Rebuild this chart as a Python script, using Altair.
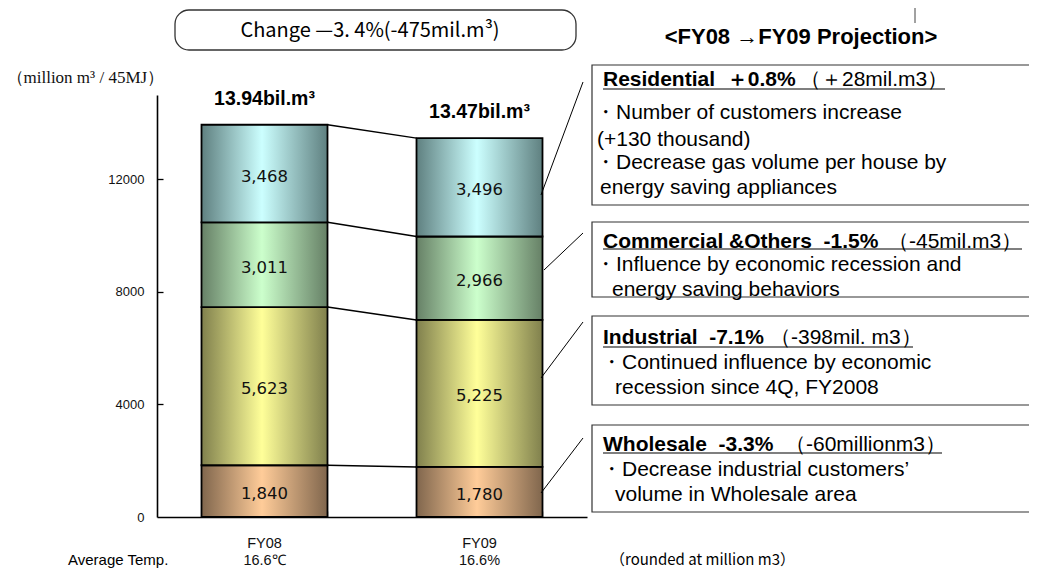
import itertools
import altair as alt
import pandas as pd

# ---------------- data ----------------
years = ["FY08", "FY09"]
temps = ["16.6℃", "16.6%"]
segments = ["Wholesale", "Industrial", "Commercial & Others", "Residential"]
fy08 = [1840, 5623, 3011, 3468]
fy09 = [1780, 5225, 2966, 3496]
total_labels = ["13.94bil.m³", "13.47bil.m³"]
y_ticks = [0, 4000, 8000, 12000]

title_text = "Change —3. 4%(-475mil.m³)"
heading_text = "<FY08 →FY09 Projection>"
unit_text = "（million m³ / 45MJ）"
temp_caption = "Average Temp."
rounding_note = "（rounded at million m3）"

box_heads = ["Residential\u00a0 ＋0.8%", "Commercial &Others\u00a0 -1.5%",
             "Industrial\u00a0 -7.1%", "Wholesale\u00a0 -3.3%"]
box_amounts = ["（＋28mil.m3）", "（-45mil.m3）", "（-398mil. m3）", "（-60millionm3）"]
box_lines = [
    ["・Number of customers increase", "(+130 thousand)",
     "・Decrease gas volume per house by", "energy saving appliances"],
    ["・Influence by economic recession and", "energy saving behaviors"],
    ["・Continued influence by economic", "recession since 4Q, FY2008"],
    ["・Decrease industrial customers’", "volume in Wholesale area"],
]

# ---------------- styles / layout ----------------
light = ["#FFCC99", "#FFFF99", "#CCFFCC", "#CCFFFF"]
dark = ["#80664D", "#80804D", "#668066", "#5F8080"]
W, H = 430, 422
YMAX = 15000
SANS = "Liberation Sans"
CJK = "Noto Sans CJK JP"

rows = []
for yr, vals in zip(years, [fy08, fy09]):
    lo = 0
    for seg, v in zip(segments, vals):
        rows.append(dict(year=yr, seg=seg, v=v, lo=lo, hi=lo + v, mid=lo + v / 2))
        lo += v
df = pd.DataFrame(rows)
tot = pd.DataFrame({"year": years, "total": [sum(fy08), sum(fy09)], "label": total_labels})
conn = pd.DataFrame({"a": [years[0]] * 4, "b": [years[1]] * 4,
                     "c1": list(itertools.accumulate(fy08)),
                     "c2": list(itertools.accumulate(fy09))})

xscale = alt.Scale(domain=years, paddingInner=0.414, paddingOuter=0.207)
yscale = alt.Scale(domain=[0, YMAX], nice=False)

label_expr = " : ".join(
    [f"datum.value == '{y}' ? ['{y}', '{t}']" for y, t in zip(years, temps)] + ["datum.value"])

x_axis = alt.Axis(orient="bottom", title=None, ticks=False, domainColor="black",
                  domainWidth=1.6, labelExpr=label_expr, labelFont=SANS,
                  labelFontSize=14.5, labelColor="#111", labelPadding=19,
                  labelLineHeight=17, labelAngle=0)
y_axis = alt.Axis(orient="left", values=y_ticks, format="d", tickSize=0,
                  labelPadding=13, labelFont=SANS, labelFontSize=13,
                  labelColor="#111", domainColor="black", domainWidth=1.6,
                  grid=False, title=unit_text, titleAngle=0, titleAlign="left",
                  titleBaseline="middle", titleX=-151, titleY=-18,
                  titleFont="Liberation Serif", titleFontSize=17,
                  titleFontWeight="normal", titleColor="#111")

layers = []
for i, seg in enumerate(segments):
    grad = alt.LinearGradient(
        gradient="linear",
        stops=[alt.GradientStop(offset=0, color=dark[i]),
               alt.GradientStop(offset=0.48, color=light[i]),
               alt.GradientStop(offset=1, color=dark[i])],
        x1=0, x2=1, y1=0, y2=0)
    layers.append(
        alt.Chart(df).transform_filter(alt.datum.seg == seg)
        .mark_bar(fill=grad, stroke="black", strokeWidth=1.8)
        .encode(x=alt.X("year:N", scale=xscale, axis=x_axis if i == 0 else None),
                y=alt.Y("lo:Q", scale=yscale, axis=y_axis if i == 0 else None),
                y2="hi:Q")
    )

# inward ticks via displaced secondary axes
ticks_layer = alt.Chart(tot).mark_point(opacity=0).encode(
    x=alt.X("year:N", scale=xscale,
            axis=alt.Axis(orient="top", offset=-H, labels=False, domain=False,
                          tickSize=6, tickBand="extent", tickColor="black",
                          tickWidth=1.3, title=None)),
    y=alt.Y("total:Q", scale=yscale,
            axis=alt.Axis(orient="right", offset=-W, labels=False, domain=False,
                          values=y_ticks[1:], tickSize=6, tickColor="black",
                          tickWidth=1.3, title=None)),
)

connectors = alt.Chart(conn).mark_rule(color="black", strokeWidth=1.5).encode(
    x=alt.X("a:N", scale=xscale, bandPosition=1, axis=None),
    x2=alt.X2("b:N", bandPosition=0),
    y=alt.Y("c1:Q", scale=yscale, axis=None),
    y2="c2:Q",
)

seg_labels = alt.Chart(df).mark_text(font="DejaVu Sans", fontSize=16.5, color="#111",
                                     dy=3, baseline="middle").encode(
    x=alt.X("year:N", scale=xscale, axis=None),
    y=alt.Y("mid:Q", scale=yscale, axis=None),
    text=alt.Text("v:Q", format=","),
)

total_text = alt.Chart(tot).mark_text(font=SANS, fontSize=19.5, fontWeight="bold",
                                      color="black", dy=-26, baseline="middle").encode(
    x=alt.X("year:N", scale=xscale, axis=None),
    y=alt.Y("total:Q", scale=yscale, axis=None),
    text="label:N",
)


def txt(s, x, y, size=21, weight="normal", font=SANS, align="left", color="black"):
    return alt.Chart(pd.DataFrame({"t": [s]})).mark_text(
        align=align, baseline="middle", font=font, fontSize=size,
        fontWeight=weight, color=color).encode(
        text="t:N", x=alt.value(x), y=alt.value(y))


def line(x1, y1, x2, y2, w=1.0, color="black"):
    return alt.Chart(pd.DataFrame({"d": [0]})).mark_rule(
        color=color, strokeWidth=w).encode(
        x=alt.value(x1), y=alt.value(y1), x2=alt.value(x2), y2=alt.value(y2))


def box(x1, y1, x2, y2, r=0, w=1.2, color="#333"):
    return alt.Chart(pd.DataFrame({"d": [0]})).mark_rect(
        fill="white", fillOpacity=0, stroke=color, strokeWidth=w,
        cornerRadius=r).encode(
        x=alt.value(x1), y=alt.value(y1), x2=alt.value(x2), y2=alt.value(y2))


deco = []
# title box + heading
deco.append(box(18, -85, 419, -45, r=14, w=1.3))
deco.append(txt(title_text, 213, -64, size=20, font=CJK, align="center"))
deco.append(txt(heading_text, 644, -58, size=22, weight="bold", align="center"))
deco.append(line(758, -95, 758, -72, w=1, color="#444"))

# annotation boxes
box_rects = [(-30, 110), (127, 202), (221, 310), (330, 417)]
head_y = [-15, 147, 243, 350]
amount_x = [643, 731, 613, 628]
underline = [(-6, 788), (154, 865), (252, 756), (358, 785)]
line_x = [[438, 440, 438, 443], [438, 455], [444, 458], [444, 458]]
line_y = [[18, 45, 68, 93], [170, 195], [268, 293], [375, 400]]
diag = [(384, 100, 426, -13), (387, 175, 426, 138), (384, 283, 426, 227), (384, 398, 426, 343)]

for k in range(4):
    deco.append(box(435, box_rects[k][0], 890, box_rects[k][1]))
    deco.append(txt(box_heads[k], 446, head_y[k], weight="bold"))
    deco.append(txt(box_amounts[k], amount_x[k], head_y[k]))
    deco.append(line(446, underline[k][0], underline[k][1], underline[k][0], w=1.2))
    for s, lx, ly in zip(box_lines[k], line_x[k], line_y[k]):
        deco.append(txt(s, lx, ly))
    x1, y1, x2, y2 = diag[k]
    deco.append(line(x1, y1, x2, y2, w=1))

deco.append(txt(temp_caption, -89, 465, size=15))
deco.append(txt(rounding_note, 453, 465, size=15, font=CJK))

chart = alt.layer(*layers, ticks_layer, connectors, seg_labels, total_text, *deco).resolve_axis(
    x="independent", y="independent"
).properties(
    width=W, height=H,
    autosize=alt.AutoSizeParams(type="none"),
    padding={"left": 149, "top": 87, "right": 442, "bottom": 52},
    background="white",
).configure_view(stroke=None)

chart.save("out.html", embed_options={"renderer": "svg", "actions": False})
